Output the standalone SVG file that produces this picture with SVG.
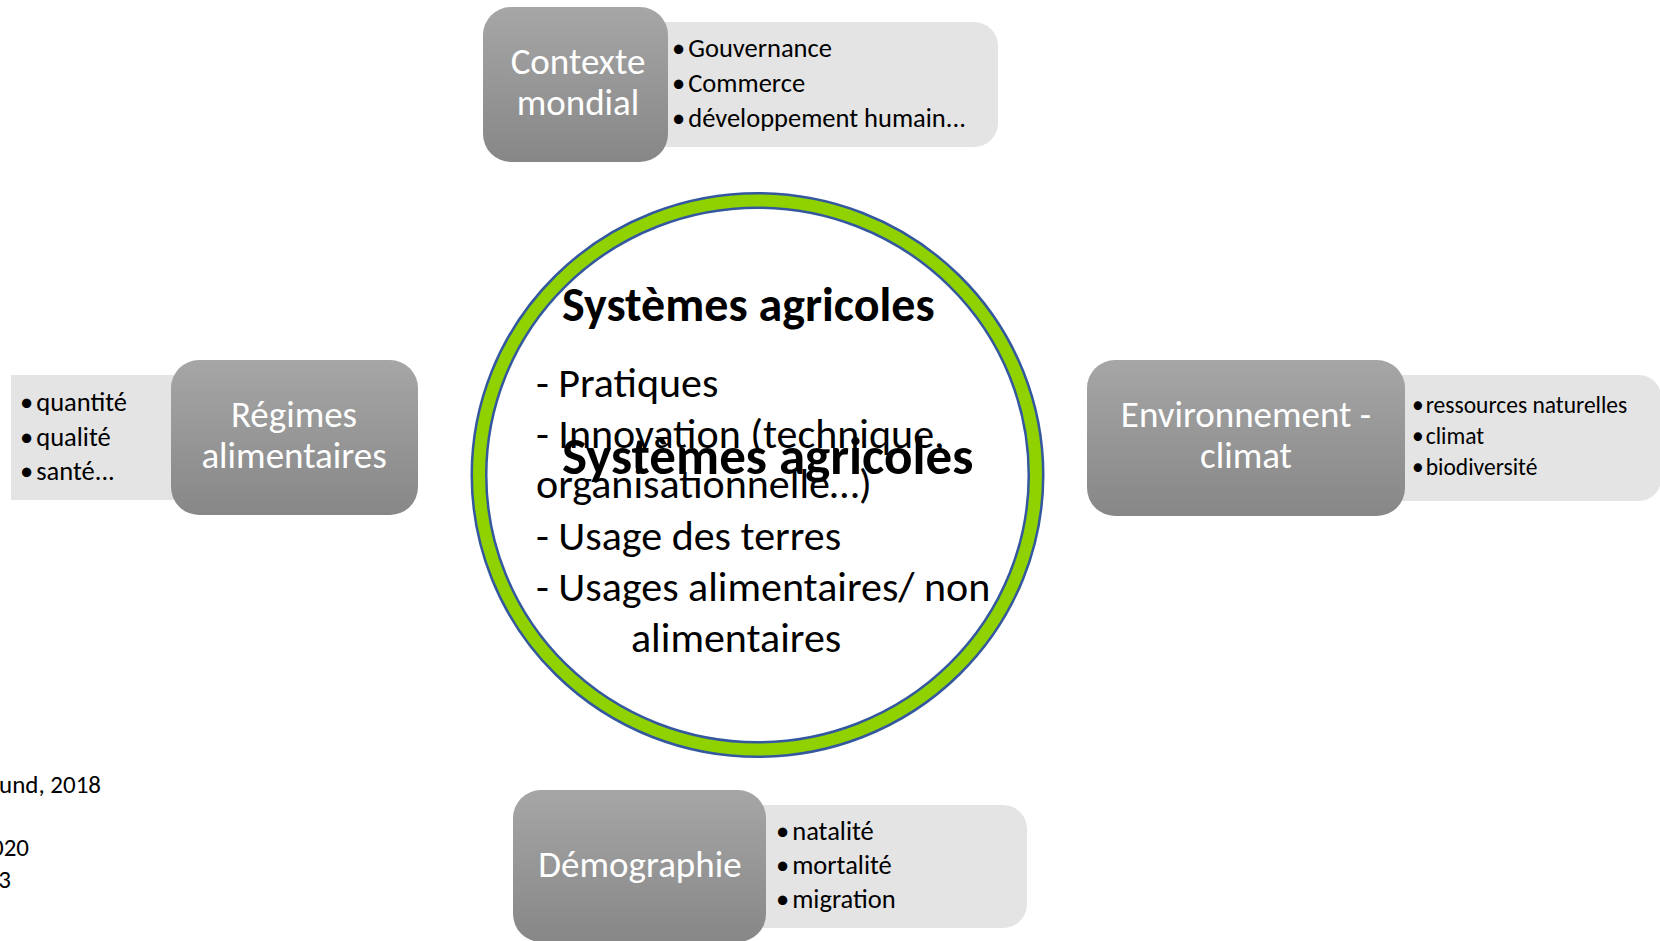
<svg xmlns="http://www.w3.org/2000/svg" width="1660" height="941" viewBox="0 0 1660 941">
<defs>
<linearGradient id="dk" x1="0" y1="0" x2="0" y2="1">
<stop offset="0" stop-color="#a6a6a6"/>
<stop offset="1" stop-color="#878787"/>
</linearGradient>
<style>
text{font-family:Carlito,Calibri,Lato,"Liberation Sans",sans-serif}
.dark{fill:url(#dk)}
.light{fill:#e4e4e4}
.ttl{fill:#ffffff;font-size:37px;text-anchor:middle}
.bl{fill:#000000;font-size:26.5px}
.bls{fill:#000000;font-size:23.5px}
.big{fill:#000000;font-size:42px}
.hd{fill:#000000;font-weight:bold}
.note{fill:#000000;font-size:25px}
</style>
</defs>
<rect width="1660" height="941" fill="#ffffff"/>
<g id="centre">
<ellipse cx="757.5" cy="475" rx="278.5" ry="274.5" fill="#ffffff" stroke="#34589f" stroke-width="17"/>
<ellipse cx="757.5" cy="475" rx="278.5" ry="274.5" fill="none" stroke="#8fd200" stroke-width="12"/>
<text class="hd" x="562" y="321" font-size="48">Systèmes agricoles</text>
<text class="big" x="536" y="397">- Pratiques</text>
<text class="big" x="536" y="448">- Innovation (technique,</text>
<text class="big" x="536" y="498">organisationnelle…)</text>
<text class="big" x="536" y="550">- Usage des terres</text>
<text class="big" x="536" y="601">- Usages alimentaires/ non</text>
<text class="big" x="631" y="652">alimentaires</text>
<text class="hd" x="562" y="474" font-size="53">Systèmes agricoles</text>
</g>
<g id="contexte">
<rect class="light" x="640" y="22" width="358" height="125" rx="24"/>
<rect class="dark" x="483" y="7" width="185" height="155" rx="28"/>
<text class="ttl" x="578" y="74">Contexte</text>
<text class="ttl" x="578" y="115">mondial</text>
<text class="bl" x="672" y="57">•<tspan dx="3">Gouvernance</tspan></text>
<text class="bl" x="672" y="92">•<tspan dx="3">Commerce</tspan></text>
<text class="bl" x="672" y="127">•<tspan dx="3">développement humain...</tspan></text>
</g>
<g id="regimes">
<rect class="light" x="11" y="375" width="200" height="125"/>
<rect class="dark" x="171" y="360" width="247" height="155" rx="28"/>
<text class="ttl" x="294" y="427">Régimes</text>
<text class="ttl" x="294" y="468">alimentaires</text>
<text class="bl" x="20" y="411">•<tspan dx="3">quantité</tspan></text>
<text class="bl" x="20" y="446">•<tspan dx="3">qualité</tspan></text>
<text class="bl" x="20" y="480">•<tspan dx="3">santé...</tspan></text>
</g>
<g id="environnement">
<rect class="light" x="1380" y="375" width="281" height="126" rx="22"/>
<rect class="dark" x="1087" y="360" width="318" height="156" rx="28"/>
<text class="ttl" x="1246" y="427">Environnement -</text>
<text class="ttl" x="1246" y="468">climat</text>
<text class="bls" x="1412" y="413">•<tspan dx="2">ressources naturelles</tspan></text>
<text class="bls" x="1412" y="444">•<tspan dx="2">climat</tspan></text>
<text class="bls" x="1412" y="475">•<tspan dx="2">biodiversité</tspan></text>
</g>
<g id="demographie">
<rect class="light" x="740" y="805" width="287" height="123" rx="24"/>
<rect class="dark" x="513" y="790" width="253" height="152" rx="28"/>
<text class="ttl" x="640" y="877">Démographie</text>
<text class="bl" x="776" y="840">•<tspan dx="3">natalité</tspan></text>
<text class="bl" x="776" y="874">•<tspan dx="3">mortalité</tspan></text>
<text class="bl" x="776" y="908">•<tspan dx="3">migration</tspan></text>
</g>
<g id="notes">
<text class="note" x="-1" y="793">und, 2018</text>
<text class="note" x="29" y="856" text-anchor="end">020</text>
<text class="note" x="11" y="888" text-anchor="end">3</text>
</g>
<g id="connectors"></g>
</svg>
